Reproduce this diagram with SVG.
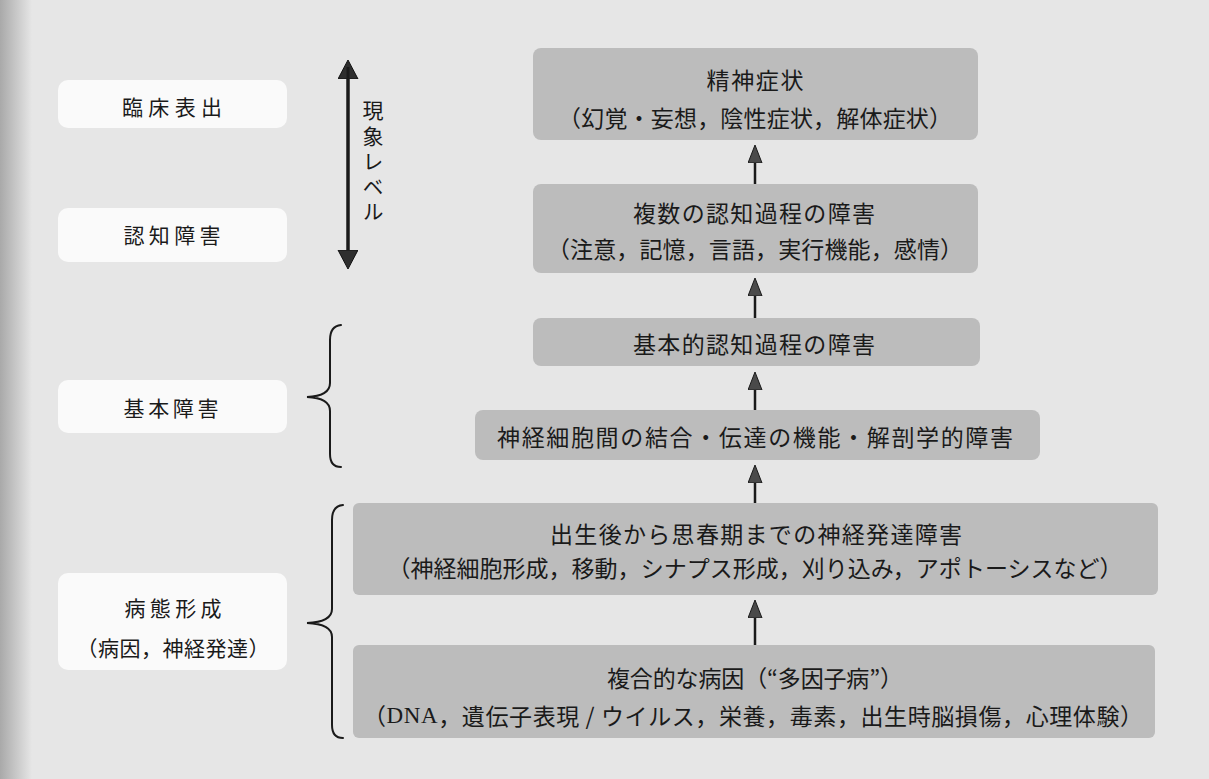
<svg xmlns="http://www.w3.org/2000/svg" width="1209" height="779" viewBox="0 0 1209 779">
  <style>
    text { font-family: 'Noto Sans CJK JP', 'Noto Sans CJK SC', sans-serif; fill: #1a1a1a; text-anchor: middle; dominant-baseline: central; }
    .main { font-size: 23px; }
    .side { font-size: 21px; }
    .vert { font-size: 21px; writing-mode: vertical-rl; text-anchor: start; }
    .box { fill: #bcbcbc; }
    .label { fill: #fafafa; }
    .conn { stroke: #1a1a1a; stroke-width: 2.5; fill: none; }
    .brace { stroke: #1a1a1a; stroke-width: 2; fill: none; stroke-linecap: round; }
  </style>
  <defs>
    <linearGradient id="edge" x1="0" y1="0" x2="1" y2="0">
      <stop offset="0" stop-color="#a9a9a9"/>
      <stop offset="1" stop-color="#e6e6e6"/>
    </linearGradient>
    <marker id="head" markerUnits="userSpaceOnUse" markerWidth="20" markerHeight="16" refX="12" refY="7" orient="auto">
      <path d="M0,0 L18,7 L0,14 z" fill="#4a4a4a" stroke="#1a1a1a" stroke-width="1"/>
    </marker>
    <marker id="bighead" markerUnits="userSpaceOnUse" markerWidth="22" markerHeight="22" refX="12" refY="10" orient="auto">
      <path d="M0,0 L19,10 L0,20 z" fill="#2e2e2e" stroke="#111" stroke-width="1"/>
    </marker>
  </defs>

  <rect x="0" y="0" width="1209" height="779" fill="#e6e6e6"/>
  <rect x="0" y="0" width="32" height="779" fill="url(#edge)"/>

  <!-- left category labels -->
  <g id="n-clinical">
    <rect class="label" x="58" y="80" width="229" height="48" rx="10"/>
    <text class="side" x="172" y="106" textLength="100" lengthAdjust="spacing">臨床表出</text>
  </g>
  <g id="n-cognitive">
    <rect class="label" x="58" y="208" width="229" height="54" rx="10"/>
    <text class="side" x="172" y="234" textLength="97" lengthAdjust="spacing">認知障害</text>
  </g>
  <g id="n-basic">
    <rect class="label" x="58" y="380" width="229" height="53" rx="10"/>
    <text class="side" x="171" y="407" textLength="95" lengthAdjust="spacing">基本障害</text>
  </g>
  <g id="n-pathogenesis">
    <rect class="label" x="58" y="573" width="229" height="97" rx="10"/>
    <text class="side" x="173" y="607" textLength="97" lengthAdjust="spacing">病態形成</text>
    <text class="side" x="173" y="647" textLength="193" lengthAdjust="spacing">（病因，神経発達）</text>
  </g>

  <!-- phenomenon level double arrow -->
  <g id="phenomenon-level">
    <line x1="348" y1="262" x2="348" y2="67" stroke="#1a1a1a" stroke-width="3" marker-end="url(#bighead)"/>
    <line x1="348" y1="67" x2="348" y2="262" stroke="#1a1a1a" stroke-width="3" marker-end="url(#bighead)"/>
    <text class="vert" x="373" y="100" textLength="122" lengthAdjust="spacing">現象レベル</text>
  </g>

  <!-- braces -->
  <g id="braces">
    <path class="brace" d="M341,325 Q330,326 330,340 L330,383 Q330,396 307,397 Q330,398 330,411 L330,454 Q330,467 341,467"/>
    <path class="brace" d="M343,505 Q332,506 332,520 L332,609 Q332,622 307,623 Q332,624 332,637 L332,725 Q332,738 343,738"/>
  </g>

  <!-- main column nodes -->
  <g id="n-psychosis">
    <rect class="box" x="533" y="48" width="445" height="92" rx="8"/>
    <text class="main" x="755" y="79" textLength="97" lengthAdjust="spacing">精神症状</text>
    <text class="main" x="755" y="117" textLength="394" lengthAdjust="spacing">（幻覚・妄想，陰性症状，解体症状）</text>
  </g>
  <g id="n-multi-cog">
    <rect class="box" x="533" y="184" width="445" height="89" rx="8"/>
    <text class="main" x="754" y="212" textLength="242" lengthAdjust="spacing">複数の認知過程の障害</text>
    <text class="main" x="755" y="248" textLength="416" lengthAdjust="spacing">（注意，記憶，言語，実行機能，感情）</text>
  </g>
  <g id="n-basic-cog">
    <rect class="box" x="533" y="318" width="447" height="48" rx="8"/>
    <text class="main" x="754" y="343" textLength="242" lengthAdjust="spacing">基本的認知過程の障害</text>
  </g>
  <g id="n-neural">
    <rect class="box" x="475" y="410" width="565" height="50" rx="8"/>
    <text class="main" x="755" y="436" textLength="516" lengthAdjust="spacing">神経細胞間の結合・伝達の機能・解剖学的障害</text>
  </g>
  <g id="n-neurodev">
    <rect class="box" x="353" y="503" width="805" height="92" rx="6"/>
    <text class="main" x="756" y="533" textLength="412" lengthAdjust="spacing">出生後から思春期までの神経発達障害</text>
    <text class="main" x="755" y="567" textLength="735" lengthAdjust="spacing">（神経細胞形成，移動，シナプス形成，刈り込み，アポトーシスなど）</text>
  </g>
  <g id="n-etiology">
    <rect class="box" x="353" y="645" width="802" height="93" rx="6"/>
    <text class="main" x="755" y="677" textLength="296" lengthAdjust="spacing">複合的な病因（“多因子病”）</text>
    <text class="main" x="753" y="715" textLength="780" lengthAdjust="spacing">（<tspan style="font-family:'Liberation Serif', serif">DNA</tspan>，遺伝子表現 / ウイルス，栄養，毒素，出生時脳損傷，心理体験）</text>
  </g>

  <!-- connectors -->
  <g id="connectors">
    <line class="conn" x1="755" y1="184" x2="755" y2="151" marker-end="url(#head)"/>
    <line class="conn" x1="755" y1="318" x2="755" y2="284" marker-end="url(#head)"/>
    <line class="conn" x1="755" y1="410" x2="755" y2="378" marker-end="url(#head)"/>
    <line class="conn" x1="755" y1="503" x2="755" y2="471" marker-end="url(#head)"/>
    <line class="conn" x1="755" y1="645" x2="755" y2="606" marker-end="url(#head)"/>
  </g>
</svg>
